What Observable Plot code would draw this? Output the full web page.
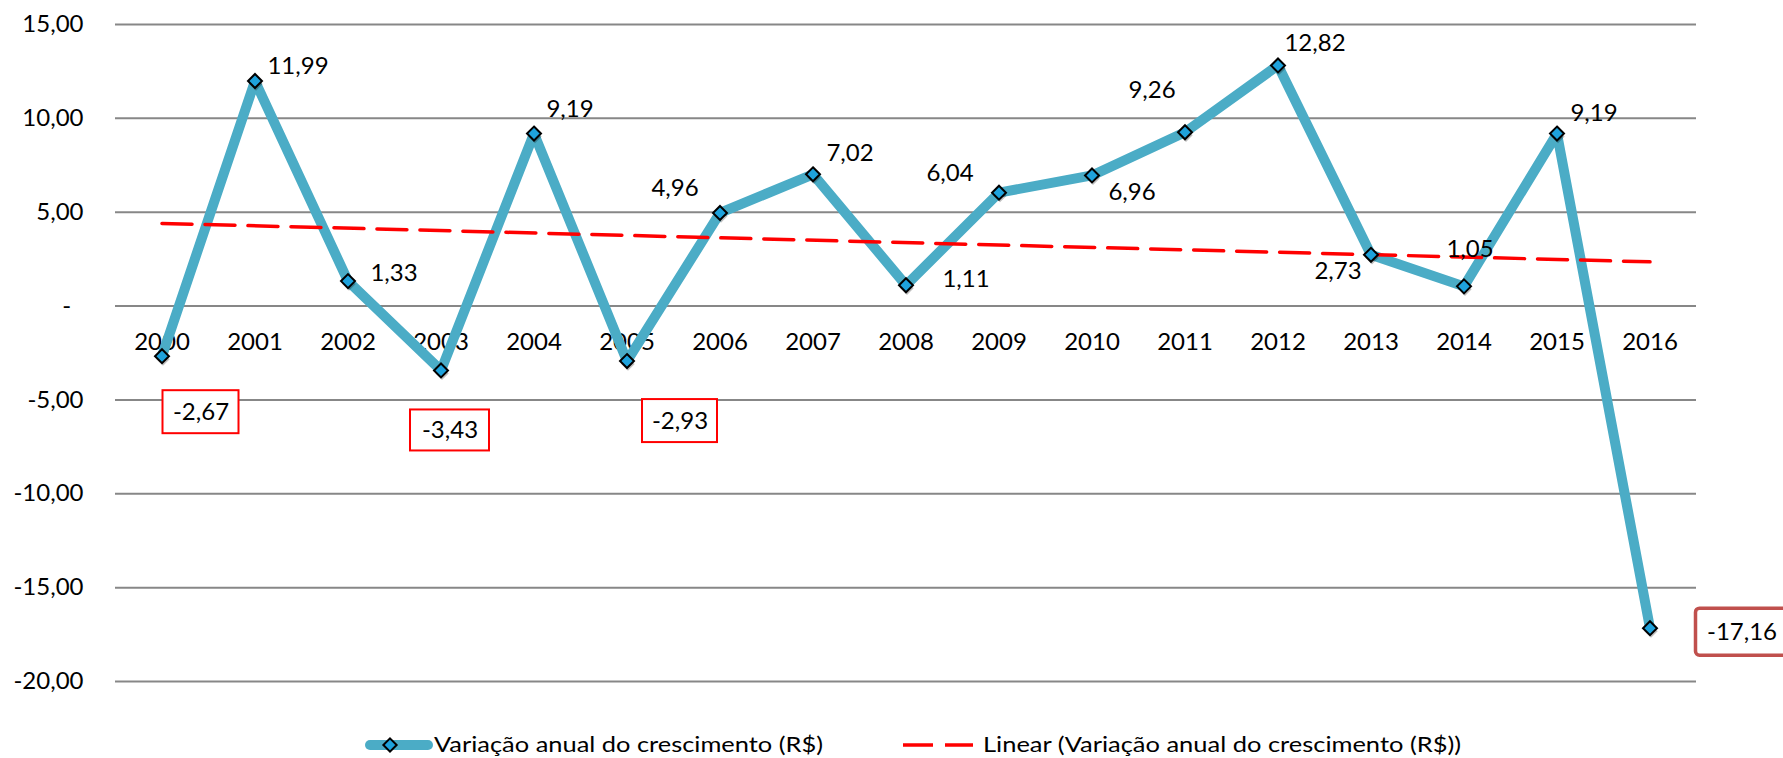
<!DOCTYPE html>
<html>
<head>
<meta charset="utf-8">
<script src="https://cdn.jsdelivr.net/npm/d3@7"></script>
<script src="https://cdn.jsdelivr.net/npm/@observablehq/plot@0.6"></script>
<style>
  body { margin: 0; background: #fff; font-family: Lato, sans-serif; }
  #chart svg, #legend svg { display: block; }
</style>
</head>
<body>
<div id="chart"></div>
<div id="legend"></div>
<script>
// ---- data ----
const years = [2000, 2001, 2002, 2003, 2004, 2005, 2006, 2007, 2008, 2009, 2010, 2011, 2012, 2013, 2014, 2015, 2016];
const values = [-2.67, 11.99, 1.33, -3.43, 9.19, -2.93, 4.96, 7.02, 1.11, 6.04, 6.96, 9.26, 12.82, 2.73, 1.05, 9.19, -17.16];
const yTicks = [15, 10, 5, 0, -5, -10, -15, -20];
const seriesLabel = "Variação anual do crescimento (R$)";
const trendLabel = "Linear (Variação anual do crescimento (R$))";
const boxedYears = [2000, 2003, 2005, 2016];

// ---- layout (label placement relative to each point, px) ----
const labelOffsets = [[39,56],[43,-15],[46,-8],[9,60],[36,-24],[53,60],[-45,-25],[37,-21],[60,-6],[-49,-19],[40,17],[-33,-42],[37,-22],[-33,16],[6,-37],[37,-20],[92,4]];
const boxStyle = {
  2000: {w: 76, h: 43, stroke: "#ff0000", sw: 2, rx: 0},
  2003: {w: 79, h: 41, stroke: "#ff0000", sw: 2, rx: 0},
  2005: {w: 75, h: 43, stroke: "#ff0000", sw: 2, rx: 0},
  2016: {w: 92, h: 47, stroke: "#c0504d", sw: 3.5, rx: 4}
};

const data = years.map((year, i) => ({year, value: values[i]}));
const fmt = v => v.toFixed(2).replace(".", ",");
const tickFmt = v => v === 0 ? "-\u00A0\u00A0" : fmt(v);

const BLUE = "#4bacc6";
const MARK = "#1ea2dc";

function boxMark(year, value, dx, dy, s) {
  return (index, scales) => {
    const cx = scales.x(year) + dx, cy = scales.y(value) + dy;
    const r = document.createElementNS("http://www.w3.org/2000/svg", "rect");
    r.setAttribute("x", cx - s.w / 2);
    r.setAttribute("y", cy - s.h / 2);
    r.setAttribute("width", s.w);
    r.setAttribute("height", s.h);
    r.setAttribute("rx", s.rx);
    r.setAttribute("fill", "white");
    r.setAttribute("stroke", s.stroke);
    r.setAttribute("stroke-width", s.sw);
    return r;
  };
}

const labelMarks = [];
data.forEach((d, i) => {
  const [dx, dy] = labelOffsets[i];
  if (boxedYears.includes(d.year)) labelMarks.push(boxMark(d.year, d.value, dx, dy, boxStyle[d.year]));
  labelMarks.push(Plot.text([d], {x: "year", y: "value", text: r => fmt(r.value), dx, dy, fontSize: 24, fill: "#000"}));
});

const chart = Plot.plot({
  width: 1783,
  height: 712,
  marginTop: 24,
  marginBottom: 31,
  marginLeft: 115,
  marginRight: 87,
  x: {domain: [1999.5, 2016.5], axis: null},
  y: {domain: [-20, 15]},
  style: {fontFamily: "Lato, sans-serif", fontSize: "24px", color: "#000", background: "white", overflow: "visible"},
  marks: [
    Plot.ruleY(yTicks, {stroke: "#878787", strokeWidth: 2}),
    Plot.axisY(yTicks, {tickSize: 0, tickPadding: 32, tickFormat: tickFmt, fontSize: 24, label: null, fill: "#000"}),
    Plot.text(years, {x: d => d, y: 0, dy: 36, text: d => String(d), fontSize: 24, fill: "#000"}),
    Plot.line(data, {x: "year", y: "value", stroke: BLUE, strokeWidth: 10, strokeLinejoin: "round", strokeLinecap: "round"}),
    Plot.linearRegressionY(data, {x: "year", y: "value", stroke: "#ff0000", strokeWidth: 3.5, strokeDasharray: "30,13", ci: 0}),
    Plot.dot(data, {x: "year", y: "value", symbol: "diamond2", r: 6, fill: "#000", fillOpacity: 0.25, stroke: "none", dx: 1, dy: 3}),
    Plot.dot(data, {x: "year", y: "value", symbol: "diamond2", r: 6.3, fill: MARK, stroke: "#000", strokeWidth: 2}),
    ...labelMarks
  ]
});
document.getElementById("chart").append(chart);

// ---- legend (below the SVG) ----
const lg = d3.select("#legend").append("svg").attr("width", 1783).attr("height", 46);
lg.append("line").attr("x1", 370).attr("x2", 428).attr("y1", 33).attr("y2", 33)
  .attr("stroke", BLUE).attr("stroke-width", 10).attr("stroke-linecap", "round");
lg.append("path").attr("d", d3.symbol(d3.symbolDiamond2, 113)()).attr("transform", "translate(390,33)")
  .attr("fill", MARK).attr("stroke", "#000").attr("stroke-width", 2);
lg.append("text").attr("x", 434).attr("y", 40).attr("font-size", 22).attr("font-family", "Lato, sans-serif")
  .attr("textLength", 389).attr("lengthAdjust", "spacingAndGlyphs").text(seriesLabel);
lg.append("line").attr("x1", 903).attr("x2", 973).attr("y1", 33).attr("y2", 33)
  .attr("stroke", "#ff0000").attr("stroke-width", 3.5).attr("stroke-dasharray", "30,12");
lg.append("text").attr("x", 983).attr("y", 40).attr("font-size", 22).attr("font-family", "Lato, sans-serif")
  .attr("textLength", 478).attr("lengthAdjust", "spacingAndGlyphs").text(trendLabel);
</script>
</body>
</html>
